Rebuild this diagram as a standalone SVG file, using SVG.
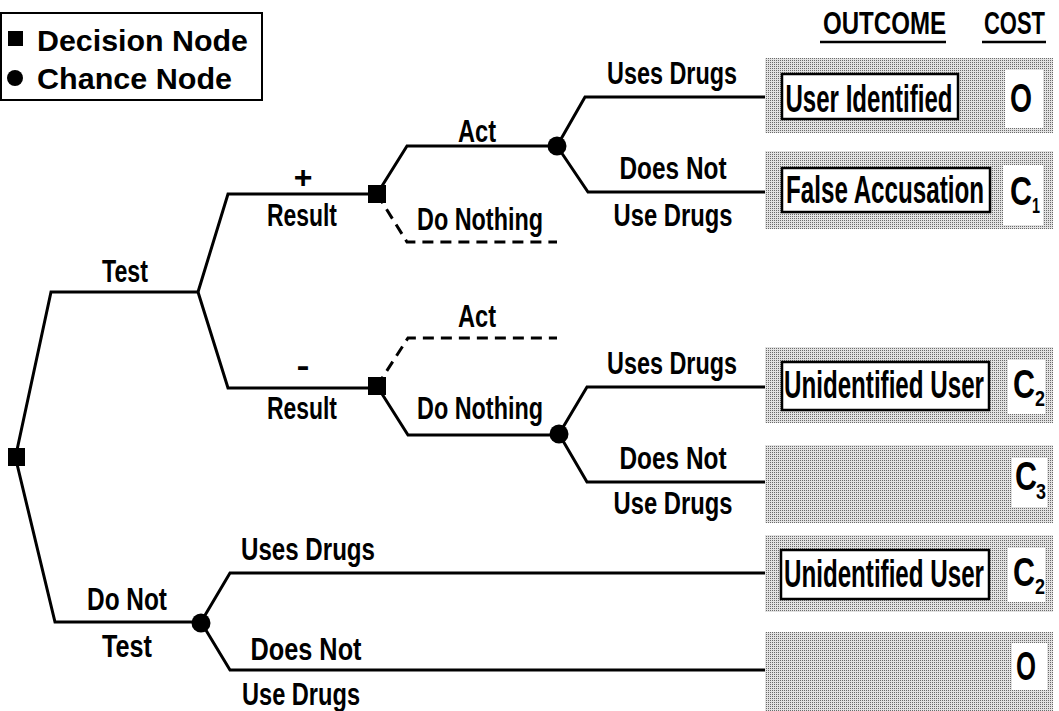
<svg xmlns="http://www.w3.org/2000/svg" width="1059" height="711" viewBox="0 0 1059 711">
<defs>
<pattern id="dots" width="2" height="2" patternUnits="userSpaceOnUse">
<rect width="2" height="2" fill="#e2e2e2"/>
<rect x="0" y="0" width="1" height="1" fill="#6a6a6a"/>
</pattern>
<style>
text{font-family:"Liberation Sans",Arial,sans-serif;font-weight:bold;font-size:32px;fill:#000}
.c{text-anchor:middle}
.lg{font-size:30px}
.big{font-size:38px}
.cost{font-size:40px}
.sub{font-size:22px}
.ln{fill:none;stroke:#000;stroke-width:3;stroke-linejoin:miter}
.dash{fill:none;stroke:#000;stroke-width:3;stroke-dasharray:11 7}
.dec{fill:#000}
.bg{fill:url(#dots)}
.wb{fill:#fff;stroke:#000;stroke-width:2.5}
.wp{fill:#fff}
</style>
</defs>
<rect width="1059" height="711" fill="#fff"/>

<g id="legend">
<rect x="1" y="13" width="261" height="87" fill="#fff" stroke="#000" stroke-width="2"/>
<rect x="8" y="31" width="15" height="15" class="dec"/>
<text class="lg" x="37" y="51" textLength="211" lengthAdjust="spacingAndGlyphs">Decision Node</text>
<circle cx="15" cy="78" r="8" class="dec"/>
<text class="lg" x="37" y="89" textLength="195" lengthAdjust="spacingAndGlyphs">Chance Node</text>
</g>

<g id="headers">
<text x="823" y="34" textLength="123" lengthAdjust="spacingAndGlyphs">OUTCOME</text>
<line x1="820" y1="42" x2="946" y2="42" stroke="#000" stroke-width="2.5"/>
<text x="984" y="34" textLength="61" lengthAdjust="spacingAndGlyphs">COST</text>
<line x1="982" y1="42" x2="1046" y2="42" stroke="#000" stroke-width="2.5"/>
</g>

<g id="connectors">
<polyline class="ln" points="17,450 51,292 198,292"/>
<polyline class="ln" points="198,292 228,194 377,194"/>
<polyline class="ln" points="198,292 228,388 377,388"/>
<polyline class="ln" points="377,194 407,146 557,146"/>
<polyline class="dash" points="377,194 407,242 557,242"/>
<polyline class="ln" points="557,146 585,97 767,97"/>
<polyline class="ln" points="557,146 588,192 767,192"/>
<polyline class="dash" points="377,386 408,338 557,338"/>
<polyline class="ln" points="377,386 408,435 559,435"/>
<polyline class="ln" points="559,434 587,387 767,387"/>
<polyline class="ln" points="559,434 587,482 767,482"/>
<polyline class="ln" points="17,464 55,622 201,622"/>
<polyline class="ln" points="201,622 230,573 767,573"/>
<polyline class="ln" points="201,622 230,670 767,670"/>
</g>

<g id="root"><rect x="8" y="448" width="17" height="18" class="dec"/></g>
<g id="dec-pos"><rect x="368" y="185" width="18" height="18" class="dec"/></g>
<g id="dec-neg"><rect x="368" y="377" width="18" height="18" class="dec"/></g>
<g id="ch-act"><circle cx="557" cy="146" r="9.5" class="dec"/></g>
<g id="ch-nothing"><circle cx="559" cy="434" r="9.5" class="dec"/></g>
<g id="ch-notest"><circle cx="201" cy="623" r="9.5" class="dec"/></g>

<g id="labels">
<text class="c" x="125" y="282" textLength="46" lengthAdjust="spacingAndGlyphs">Test</text>
<text class="c" x="303" y="188">+</text>
<text class="c" x="302" y="226" textLength="70" lengthAdjust="spacingAndGlyphs">Result</text>
<text class="c" x="477" y="142" textLength="38" lengthAdjust="spacingAndGlyphs">Act</text>
<text class="c" x="480" y="230" textLength="126" lengthAdjust="spacingAndGlyphs">Do Nothing</text>
<text class="c" x="672" y="84" textLength="130" lengthAdjust="spacingAndGlyphs">Uses Drugs</text>
<text class="c" x="673" y="179" textLength="107" lengthAdjust="spacingAndGlyphs">Does Not</text>
<text class="c" x="673" y="226" textLength="119" lengthAdjust="spacingAndGlyphs">Use Drugs</text>
<text class="c" x="303" y="376" textLength="13" lengthAdjust="spacingAndGlyphs">-</text>
<text class="c" x="302" y="419" textLength="70" lengthAdjust="spacingAndGlyphs">Result</text>
<text class="c" x="477" y="327" textLength="38" lengthAdjust="spacingAndGlyphs">Act</text>
<text class="c" x="480" y="419" textLength="126" lengthAdjust="spacingAndGlyphs">Do Nothing</text>
<text class="c" x="672" y="374" textLength="130" lengthAdjust="spacingAndGlyphs">Uses Drugs</text>
<text class="c" x="673" y="469" textLength="107" lengthAdjust="spacingAndGlyphs">Does Not</text>
<text class="c" x="673" y="514" textLength="119" lengthAdjust="spacingAndGlyphs">Use Drugs</text>
<text class="c" x="127" y="610" textLength="80" lengthAdjust="spacingAndGlyphs">Do Not</text>
<text class="c" x="127" y="657" textLength="50" lengthAdjust="spacingAndGlyphs">Test</text>
<text class="c" x="308" y="560" textLength="134" lengthAdjust="spacingAndGlyphs">Uses Drugs</text>
<text class="c" x="306" y="660" textLength="111" lengthAdjust="spacingAndGlyphs">Does Not</text>
<text class="c" x="301" y="705" textLength="118" lengthAdjust="spacingAndGlyphs">Use Drugs</text>
</g>

<g id="outcome1">
<rect x="765" y="58" width="288" height="75" class="bg"/>
<rect x="782" y="74" width="176" height="45" class="wb"/>
<text class="c big" x="869" y="112" textLength="167" lengthAdjust="spacingAndGlyphs">User Identified</text>
<rect x="1005" y="70" width="38" height="58" class="wp"/>
<text class="c cost" x="1021" y="112" textLength="22" lengthAdjust="spacingAndGlyphs">O</text>
</g>
<g id="outcome2">
<rect x="765" y="151" width="288" height="78" class="bg"/>
<rect x="782" y="168" width="208" height="44" class="wb"/>
<text class="c big" x="885" y="203" textLength="198" lengthAdjust="spacingAndGlyphs">False Accusation</text>
<rect x="1003" y="165" width="40" height="60" class="wp"/>
<text class="cost" x="1010" y="205"><tspan textLength="22" lengthAdjust="spacingAndGlyphs">C</tspan><tspan class="sub" x="1032" y="213" textLength="8" lengthAdjust="spacingAndGlyphs">1</tspan></text>
</g>
<g id="outcome3">
<rect x="765" y="347" width="288" height="76" class="bg"/>
<rect x="782" y="362" width="207" height="48" class="wb"/>
<text class="c big" x="884" y="398" textLength="200" lengthAdjust="spacingAndGlyphs">Unidentified User</text>
<rect x="1008" y="360" width="37" height="54" class="wp"/>
<text class="cost" x="1013" y="398"><tspan textLength="22" lengthAdjust="spacingAndGlyphs">C</tspan><tspan class="sub" x="1035" y="406" textLength="10" lengthAdjust="spacingAndGlyphs">2</tspan></text>
</g>
<g id="outcome4">
<rect x="765" y="445" width="288" height="78" class="bg"/>
<rect x="1012" y="458" width="35" height="49" class="wp"/>
<text class="cost" x="1015" y="490"><tspan textLength="22" lengthAdjust="spacingAndGlyphs">C</tspan><tspan class="sub" x="1036" y="499" textLength="10" lengthAdjust="spacingAndGlyphs">3</tspan></text>
</g>
<g id="outcome5">
<rect x="765" y="535" width="288" height="77" class="bg"/>
<rect x="781" y="550" width="208" height="49" class="wb"/>
<text class="c big" x="884" y="587" textLength="200" lengthAdjust="spacingAndGlyphs">Unidentified User</text>
<rect x="1008" y="548" width="37" height="54" class="wp"/>
<text class="cost" x="1013" y="586"><tspan textLength="22" lengthAdjust="spacingAndGlyphs">C</tspan><tspan class="sub" x="1035" y="594" textLength="10" lengthAdjust="spacingAndGlyphs">2</tspan></text>
</g>
<g id="outcome6">
<rect x="765" y="632" width="288" height="79" class="bg"/>
<rect x="1012" y="643" width="35" height="47" class="wp"/>
<text class="c cost" x="1026" y="680" textLength="20" lengthAdjust="spacingAndGlyphs">O</text>
</g>
</svg>
